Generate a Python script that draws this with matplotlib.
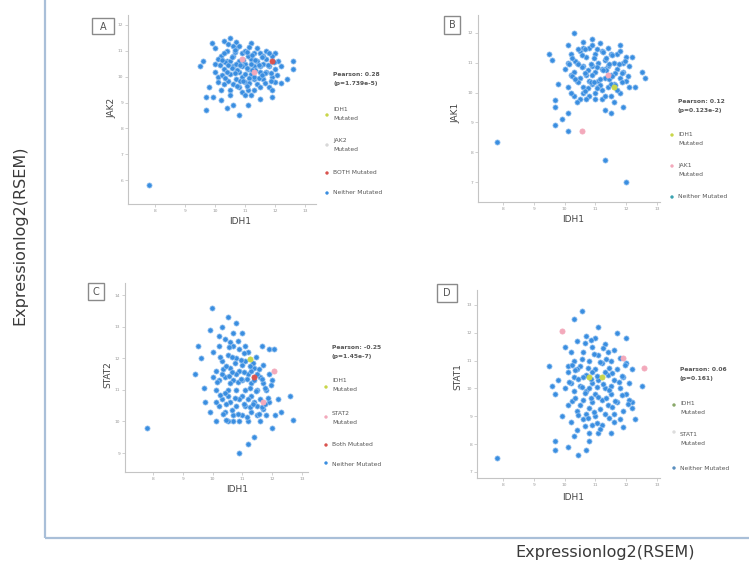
import matplotlib
matplotlib.use("Agg")
import matplotlib.pyplot as plt
from matplotlib.patches import Rectangle

W, H = 749, 575

# ---------------- data (log2 RSEM) ----------------
idh1_ticks = [8, 9, 10, 11, 12, 13]
jak2_ticks = [6, 7, 8, 9, 10, 11, 12]
jak1_ticks = [7, 8, 9, 10, 11, 12]
stat2_ticks = [9, 10, 11, 12, 13, 14]
stat1_ticks = [7, 8, 9, 10, 11, 12, 13]

# Panel A: IDH1 vs JAK2 (neither mutated)
a_points = [(9.5,10.4),(9.7,9.2),(9.7,8.7),(9.9,11.3),(10.3,11.4),(10.5,11.5),(10.7,11.35),(11.2,11.3),
            (11.7,11.0),(12.2,10.4),(12.6,10.6),(12.6,10.3),(12.4,9.9),(11.9,9.2),(11.5,9.15),(10.8,8.5),
            (10.4,8.8),(10.2,9.1),(9.95,9.2),(12.2,9.75),(7.8,5.8),(9.6,10.6),(10.0,11.1),(12.0,10.9),
            (9.8,9.6),(11.1,8.9),(10.6,8.9),
            (10.0,10.5),(10.1,10.0),(10.2,10.8),(10.3,10.3),(10.3,9.7),(10.4,11.0),(10.4,10.6),(10.5,10.1),
            (10.5,9.5),(10.6,10.8),(10.6,10.4),(10.7,9.9),(10.7,11.1),(10.8,10.6),(10.8,10.2),(10.8,9.6),
            (10.9,10.9),(10.9,10.0),(11.0,10.5),(11.0,9.8),(11.0,11.0),(11.1,10.3),(11.1,9.5),(11.2,10.7),
            (11.2,10.1),(11.3,10.9),(11.3,9.9),(11.3,10.4),(11.4,10.6),(11.4,9.7),(11.5,10.2),(11.5,10.9),
            (11.6,10.5),(11.6,9.9),(11.7,10.7),(11.7,10.2),(11.8,10.4),(11.9,10.0),(11.9,10.8),(12.0,10.3),
            (12.0,9.8),(10.1,10.7),(10.2,9.5),(10.5,10.6),(10.6,9.7),(10.9,9.4),(11.2,9.3),(11.4,11.1),
            (11.8,9.6),(12.1,10.6),(10.3,10.9),(10.6,11.2),(10.9,10.4),(11.1,10.8),(11.3,10.0),(11.5,9.6),
            (11.6,10.8),(10.4,10.2),(10.7,10.5),(11.0,10.1),(11.2,10.5),(10.8,11.2),(11.5,10.4),(10.1,9.8),
            (10.0,10.2),(11.8,10.9),(11.9,9.5),(10.5,9.3),(11.0,9.3),(11.3,9.5),
            (10.15,10.45),(10.25,10.05),(10.35,10.55),(10.45,9.85),(10.55,10.35),(10.65,10.95),(10.75,10.25),
            (10.85,9.85),(10.95,10.65),(11.05,10.35),(11.15,9.95),(11.25,10.85),(11.35,10.25),(11.45,9.95),
            (11.55,10.75),(11.65,10.15),(11.75,10.45),(11.85,10.15),(11.95,10.55),(12.05,10.05),(10.45,10.45),
            (10.65,10.15),(10.85,10.45),(11.05,10.95),(11.25,10.25),(11.45,10.45),(11.65,9.75),(10.35,9.95),
            (10.75,9.65),(11.15,9.75),(11.35,10.65),(10.95,9.85),(10.55,10.75),(11.55,10.05),(11.05,9.65),
            (10.25,10.65),(11.85,9.85),(10.65,11.05),(11.15,11.15),(10.45,11.25)]
a_jak2_mut = [(11.3,10.2),(10.9,10.7)]
a_both_mut = [(11.9,10.6)]

# Panel B: IDH1 vs JAK1
b_points = [(7.8,8.35),(10.3,12.0),(10.1,11.6),(10.6,11.7),(9.5,11.3),(12.2,11.2),(12.5,10.7),(12.6,10.5),
            (9.7,9.75),(9.7,9.5),(9.7,8.9),(9.9,9.1),(10.1,8.7),(10.1,9.3),(11.3,7.75),(12.0,7.0),
            (11.3,9.4),(11.5,9.3),(11.9,9.5),(9.6,11.1),(9.8,10.3),(12.3,10.2),(11.8,11.6),(10.9,11.8),
            (10.0,10.8),(10.1,10.2),(10.2,11.3),(10.2,10.6),(10.3,9.9),(10.4,11.0),(10.4,10.4),(10.5,11.4),
            (10.5,9.8),(10.6,10.9),(10.6,10.2),(10.7,11.2),(10.7,10.6),(10.8,9.9),(10.8,11.5),(10.9,10.9),
            (10.9,10.3),(11.0,11.3),(11.0,10.7),(11.0,10.0),(11.1,11.0),(11.1,10.4),(11.2,11.4),(11.2,10.8),
            (11.2,9.8),(11.3,10.5),(11.3,11.1),(11.4,10.2),(11.4,10.9),(11.5,11.3),(11.5,10.6),(11.5,9.9),
            (11.6,11.0),(11.6,10.3),(11.7,10.8),(11.7,11.3),(11.8,10.5),(11.8,10.0),(11.9,11.0),(11.9,10.7),
            (12.0,10.4),(12.1,10.9),(10.3,10.7),(10.5,10.5),(10.6,11.5),(10.8,10.4),(10.9,11.6),(11.0,9.8),
            (11.1,10.2),(11.3,9.9),(11.4,11.5),(11.6,9.7),(12.0,11.2),(10.2,10.0),(10.4,9.7),(10.7,9.8),
            (11.2,10.1),(11.5,10.3),(11.7,10.1),(10.1,11.0),(10.9,10.6),(11.3,10.8),(10.6,10.0),(11.8,11.4),
            (12.1,10.2),
            (10.15,10.95),(10.25,10.55),(10.35,11.05),(10.45,10.35),(10.55,10.85),(10.65,11.45),(10.75,10.75),
            (10.85,10.35),(10.95,11.15),(11.05,10.85),(11.15,10.45),(11.25,11.35),(11.35,10.75),(11.45,10.45),
            (11.55,11.25),(11.65,10.65),(11.75,10.95),(11.85,10.65),(11.95,11.05),(12.05,10.55),(10.45,10.95),
            (10.65,10.65),(10.85,10.95),(11.05,11.45),(11.25,10.75),(11.45,10.95),(11.65,10.25),(10.35,10.45),
            (10.75,10.15),(11.15,10.25),(11.35,11.15),(10.95,10.35),(10.55,11.25),(11.55,10.55),(11.05,10.15),
            (10.25,11.15),(11.85,10.35),(10.65,10.05),(11.15,11.65),(10.45,11.45)]
b_jak1_mut = [(10.55,8.7),(11.4,10.6)]
b_idh1_mut = [(11.6,10.2)]

# Panel C: IDH1 vs STAT2
c_points = [(9.97,13.6),(10.5,13.3),(9.9,12.9),(10.3,13.0),(10.7,12.8),(11.0,12.8),(9.5,12.4),(9.6,12.0),
            (11.65,12.4),(11.9,12.3),(12.05,12.3),(9.7,11.05),(9.75,10.6),(10.1,10.0),(10.7,10.0),(11.4,9.5),
            (12.0,9.8),(12.3,10.3),(12.6,10.8),(12.7,10.05),(10.9,9.0),(7.8,9.8),(9.4,11.5),(9.9,10.3),
            (11.2,9.3),(10.2,12.7),(10.8,13.1),
            (10.0,12.2),(10.1,11.6),(10.1,11.0),(10.2,12.4),(10.2,11.3),(10.3,10.7),(10.3,11.9),(10.4,11.4),
            (10.4,10.3),(10.5,12.1),(10.5,11.0),(10.6,11.7),(10.6,10.6),(10.6,12.5),(10.7,11.3),(10.7,10.2),
            (10.8,12.0),(10.8,11.0),(10.8,10.5),(10.9,11.6),(10.9,12.3),(11.0,10.8),(11.0,11.3),(11.0,10.2),
            (11.1,11.9),(11.1,11.0),(11.1,10.5),(11.2,11.5),(11.2,12.2),(11.3,10.8),(11.3,10.3),(11.3,11.2),
            (11.4,11.7),(11.4,10.6),(11.5,11.0),(11.5,10.2),(11.6,11.4),(11.6,10.7),(11.7,11.8),(11.7,10.4),
            (11.8,11.0),(11.9,10.6),(12.0,11.3),(12.1,10.2),(10.2,10.5),(10.4,12.6),(10.5,10.8),(10.7,12.4),
            (10.9,10.0),(11.0,11.8),(11.2,10.0),(11.4,11.3),(11.6,10.0),(11.8,10.2),(12.2,10.7),(10.3,11.5),
            (10.6,11.2),(10.9,10.7),(11.2,10.7),(11.5,11.5),(10.0,11.4),(10.4,10.9),(10.8,11.5),(11.1,12.4),
            (11.3,11.6),(11.7,11.2),(10.5,10.0),(11.9,11.5),(10.1,10.6),(11.5,10.5),
            (10.15,11.25),(10.25,10.85),(10.35,11.65),(10.45,10.55),(10.55,11.45),(10.65,12.05),(10.75,10.75),
            (10.85,11.25),(10.95,11.95),(11.05,10.55),(11.15,11.35),(11.25,10.45),(11.35,11.85),(11.45,10.95),
            (11.55,11.65),(11.65,10.45),(11.75,11.05),(11.85,10.75),(11.95,11.15),(10.45,11.75),(10.65,10.35),
            (10.85,10.25),(11.05,12.15),(11.25,11.05),(11.45,12.05),(10.35,10.25),(10.75,11.85),(11.15,10.15),
            (11.35,10.55),(10.95,11.35),(10.55,12.35),(11.55,10.25),(11.05,11.55),(10.25,12.05),(11.75,10.55),
            (10.65,11.55),(10.85,12.55),(11.25,11.75),(10.45,10.05),(11.65,11.35)]
c_idh1_mut = [(11.26,11.97)]
c_stat2_mut = [(12.05,11.58),(11.7,10.6)]
c_both_mut = [(11.4,11.4)]

# Panel D: IDH1 vs STAT1
d_points = [(10.55,12.8),(10.3,12.5),(11.1,12.2),(11.7,12.0),(12.0,11.8),(11.6,11.4),(9.5,10.8),(10.1,10.8),
            (9.8,10.3),(9.6,10.1),(9.7,9.8),(12.2,10.7),(12.5,10.1),(12.2,9.5),(12.2,9.3),(9.7,8.1),
            (9.7,7.8),(10.1,7.9),(10.45,7.6),(10.7,7.8),(10.8,8.1),(7.8,7.5),(10.0,11.5),(11.9,8.6),
            (9.9,9.0),(12.3,8.9),
            (10.0,10.0),(10.1,9.4),(10.1,10.6),(10.2,11.3),(10.2,8.8),(10.3,9.9),(10.3,10.4),(10.4,11.7),
            (10.4,9.2),(10.4,8.5),(10.5,10.8),(10.5,10.1),(10.6,9.6),(10.6,11.3),(10.6,8.9),(10.7,10.5),
            (10.7,9.9),(10.7,11.9),(10.8,9.3),(10.8,11.0),(10.9,10.2),(10.9,8.7),(10.9,11.5),(11.0,9.8),
            (11.0,10.7),(11.0,9.0),(11.1,10.3),(11.1,11.2),(11.1,8.4),(11.2,9.6),(11.2,10.9),(11.3,10.0),
            (11.3,11.6),(11.3,9.1),(11.4,10.5),(11.4,9.4),(11.5,11.0),(11.5,9.8),(11.6,8.8),(11.6,10.3),
            (11.7,10.7),(11.7,9.5),(11.8,10.0),(11.8,11.1),(11.9,9.2),(11.9,10.4),(12.0,9.8),(12.0,10.9),
            (12.1,10.2),(10.2,10.2),(10.3,8.3),(10.5,9.4),(10.8,10.0),(10.9,9.5),(11.0,11.8),(11.2,8.7),
            (11.4,11.3),(11.5,8.4),(11.6,9.1),(10.6,10.4),(10.4,10.7),(11.3,10.6),(10.8,8.4),(11.1,9.7),
            (10.3,11.0),(11.8,8.9),(12.1,9.6),(10.7,9.1),(11.5,10.1),(10.9,10.6),
            (10.15,10.25),(10.25,9.55),(10.35,10.65),(10.45,9.05),(10.55,11.05),(10.65,9.85),(10.75,10.75),
            (10.85,9.65),(10.95,11.25),(11.05,10.45),(11.15,9.25),(11.25,10.15),(11.35,11.05),(11.45,9.95),
            (11.55,10.55),(11.65,9.55),(11.75,10.25),(11.85,9.75),(11.95,10.85),(12.05,9.45),(10.45,10.35),
            (10.65,8.65),(10.85,11.75),(11.05,8.75),(11.25,11.45),(11.45,8.95),(10.35,9.65),(10.75,8.95),
            (11.15,10.95),(11.35,9.65),(10.95,9.15),(10.55,10.05),(11.55,9.35),(11.05,10.05),(10.25,10.85),
            (11.85,10.45),(10.65,11.65),(11.15,8.55),(10.85,10.35),(11.45,10.75)]
d_idh1_mut = [(10.8,10.4),(11.2,10.4)]
d_stat1_mut = [(9.9,12.06),(11.9,11.08),(12.57,10.72)]

panel_letters = ["A", "B", "C", "D"]
y_names = ["JAK2", "JAK1", "STAT2", "STAT1"]
pearson_text = ["Pearson: 0.28\n(p=1.739e-5)", "Pearson: 0.12\n(p=0.123e-2)",
                "Pearson: -0.25\n(p=1.45e-7)", "Pearson: 0.06\n(p=0.161)"]
outer_label = "Expressionlog2(RSEM)"

# ---------------- styles ----------------
BLUE, BLUE_EDGE = "#3a8ee0", "#9cc6f2"
PINK = "#f3a9bb"
RED = "#d9534f"
YEL = "#c9d64a"
GREY_T = "#555555"


def make_axes(fig, box, xt_px, xvals, yt_px, yvals):
    left, top, right, bottom = box
    ax = fig.add_axes([left / W, 1 - bottom / H, (right - left) / W, (bottom - top) / H])
    bx = (xt_px[-1] - xt_px[0]) / (xvals[-1] - xvals[0])
    ox = xt_px[0] - bx * xvals[0]
    ax.set_xlim((left - ox) / bx, (right - ox) / bx)
    by = (yt_px[-1] - yt_px[0]) / (yvals[-1] - yvals[0])
    oy = yt_px[0] - by * yvals[0]
    ax.set_ylim((bottom - oy) / by, (top - oy) / by)
    for s in ("top", "right"):
        ax.spines[s].set_visible(False)
    for s in ("left", "bottom"):
        ax.spines[s].set_color("#c4c4c4")
        ax.spines[s].set_linewidth(0.8)
    ax.tick_params(length=2, width=0.5, color="#bdbdbd", labelsize=3.2,
                   labelcolor="#9a9a9a", pad=1.5)
    ax.set_facecolor("none")
    return ax


def scat(ax, pts, color, edge, s=14, z=2):
    if not pts:
        return
    xs = [p[0] for p in pts]
    ys = [p[1] for p in pts]
    ax.scatter(xs, ys, s=s, c=color, edgecolors=edge, linewidths=0.5, zorder=z)


fig = plt.figure(figsize=(W / 100, H / 100), dpi=100)
fig.patch.set_facecolor("white")

# overlay for frame, labels, boxes, legends (pixel coordinates)
ov = fig.add_axes([0, 0, 1, 1])
ov.set_xlim(0, W)
ov.set_ylim(H, 0)
ov.axis("off")
ov.set_zorder(5)
ov.patch.set_alpha(0)

ov.plot([45, 45], [0, 538], color="#a9bfd8", lw=1.6, solid_capstyle="butt")
ov.plot([45, W], [538, 538], color="#a9bfd8", lw=1.6, solid_capstyle="butt")
ov.text(20, 235, outer_label, rotation=90, ha="center", va="center",
        fontsize=11.5, color="#3a3a3a")
ov.text(605, 553, outer_label, ha="center", va="center", fontsize=11.5, color="#3a3a3a")

axA = make_axes(fig, (128, 15, 316, 204), [155, 305], [8, 13], [25, 180], [12, 6])
axA.set_xticks(idh1_ticks); axA.set_yticks(jak2_ticks)
scat(axA, a_points, BLUE, BLUE_EDGE)
scat(axA, a_jak2_mut, PINK, PINK, z=3)
scat(axA, a_both_mut, RED, RED, z=3)

axB = make_axes(fig, (478, 15, 660, 202), [503, 657], [8, 13], [33, 182], [12, 7])
axB.set_xticks(idh1_ticks); axB.set_yticks(jak1_ticks)
scat(axB, b_points, BLUE, BLUE_EDGE)
scat(axB, b_jak1_mut, PINK, PINK, z=3)
scat(axB, b_idh1_mut, YEL, YEL, z=3)

axC = make_axes(fig, (125, 283, 308, 472), [153, 302], [8, 13], [295, 453], [14, 9])
axC.set_xticks(idh1_ticks); axC.set_yticks(stat2_ticks)
scat(axC, c_points, BLUE, BLUE_EDGE)
scat(axC, c_idh1_mut, YEL, YEL, z=3)
scat(axC, c_stat2_mut, PINK, PINK, z=3)
scat(axC, c_both_mut, RED, RED, z=3)

axD = make_axes(fig, (477, 290, 660, 478), [503, 657], [8, 13], [305, 472], [13, 7])
axD.set_xticks(idh1_ticks); axD.set_yticks(stat1_ticks)
scat(axD, d_points, BLUE, BLUE_EDGE)
scat(axD, d_idh1_mut, YEL, YEL, z=3)
scat(axD, d_stat1_mut, PINK, PINK, z=3)

# axis names
name_fs = 6.5
ov.text(112, 108, y_names[0], rotation=90, ha="center", va="center", fontsize=name_fs, color="#444")
ov.text(240, 221, "IDH1", ha="center", va="center", fontsize=name_fs, color="#444")
ov.text(456, 113, y_names[1], rotation=90, ha="center", va="center", fontsize=name_fs, color="#444")
ov.text(573, 220, "IDH1", ha="center", va="center", fontsize=name_fs, color="#444")
ov.text(108, 375, y_names[2], rotation=90, ha="center", va="center", fontsize=name_fs, color="#444")
ov.text(237, 490, "IDH1", ha="center", va="center", fontsize=name_fs, color="#444")
ov.text(458, 377, y_names[3], rotation=90, ha="center", va="center", fontsize=name_fs, color="#444")
ov.text(573, 497, "IDH1", ha="center", va="center", fontsize=name_fs, color="#444")

# panel letter boxes
for (bx0, by0, bw, bh), letter in zip([(92, 18, 22, 16), (444, 16, 16, 18),
                                       (88, 283, 16, 17), (437, 284, 20, 18)], panel_letters):
    ov.add_patch(Rectangle((bx0, by0), bw, bh, fill=False, ec="#8a8a8a", lw=1.0))
    ov.text(bx0 + bw / 2, by0 + bh / 2 + 0.5, letter, ha="center", va="center",
            fontsize=7, color="#555")

# legends
leg_fs = 4.3


def legend(x, py_pearson, text, entries):
    ov.text(x, py_pearson, text, ha="left", va="top", fontsize=leg_fs, color=GREY_T,
            linespacing=1.9, fontweight="bold")
    for my, ty, label, col in entries:
        ov.scatter([x - 6], [my], s=6, c=col, edgecolors="none", zorder=6)
        ov.text(x, ty, label, ha="left", va="center", fontsize=leg_fs, color=GREY_T,
                linespacing=2.2)


legend(333, 72, pearson_text[0], [(115, 114, "IDH1\nMutated", YEL), (145, 145, "JAK2\nMutated", "#d8d8d8"),
                                  (173, 172, "BOTH Mutated", RED), (193, 193, "Neither Mutated", BLUE)])
legend(678, 99, pearson_text[1], [(135, 139, "IDH1\nMutated", YEL), (166, 170, "JAK1\nMutated", PINK),
                                  (197, 197, "Neither Mutated", "#3aa3b0")])
legend(332, 345, pearson_text[2], [(387, 385, "IDH1\nMutated", YEL), (417, 418, "STAT2\nMutated", PINK),
                                   (445, 445, "Both Mutated", RED), (463, 464, "Neither Mutated", BLUE)])
legend(680, 367, pearson_text[3], [(405, 408, "IDH1\nMutated", "#8aa86a"), (432, 439, "STAT1\nMutated", "#dddddd"),
                                   (468, 468, "Neither Mutated", "#5a8fbf")])

fig.savefig("out.png", dpi=100)
